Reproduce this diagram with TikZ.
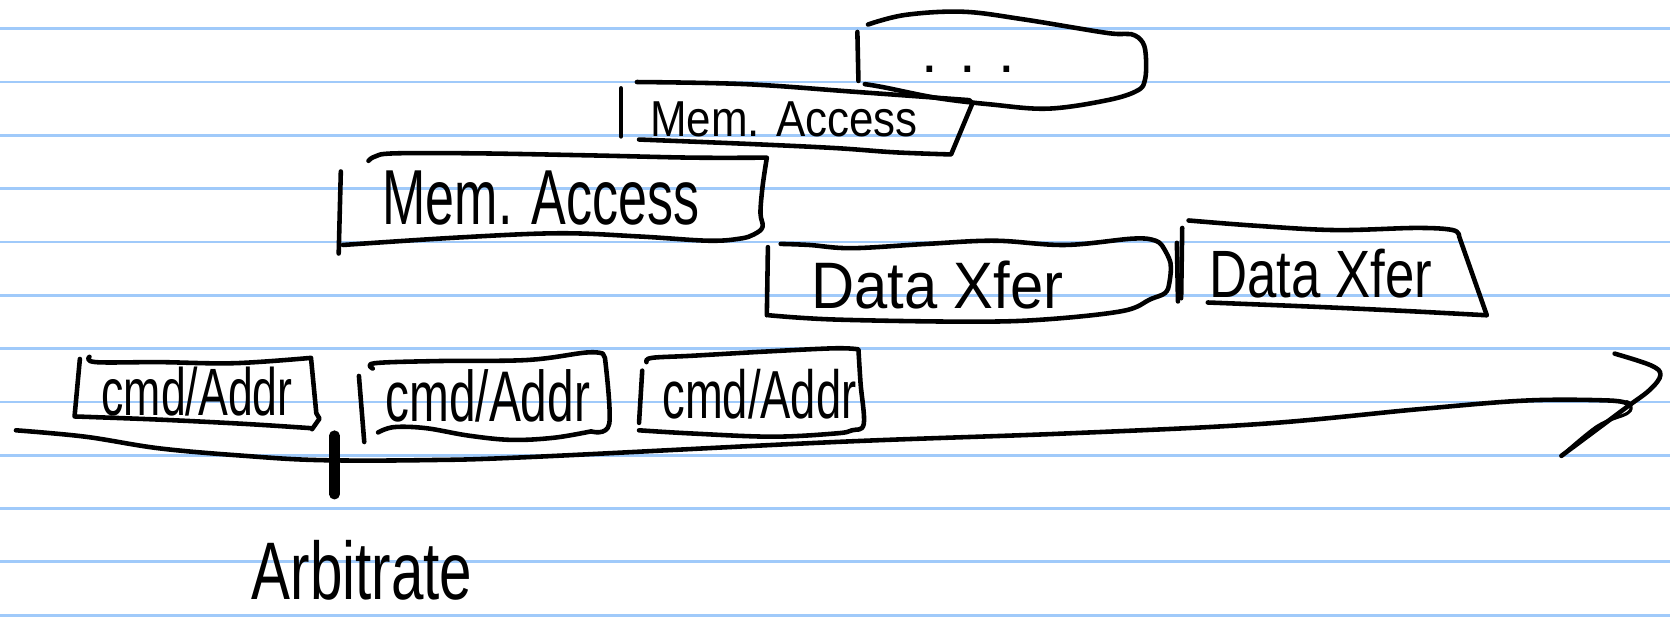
\documentclass[tikz,border=0pt]{standalone}
\usepackage{fontspec}
\usepackage{graphicx}
\setsansfont{Liberation Sans}
\definecolor{ruling}{RGB}{160,202,250}
\tikzset{
  ink/.style={draw=black, line width=1.3pt, line cap=round, line join=round},
  rule/.style={draw=ruling, line width=0.8pt},
  hw/.style={inner sep=0pt, font=\sffamily, anchor=base, text=black},
}
\newcommand{\hwtext}[3]{\fontsize{#1}{#1}\selectfont\scalebox{1}[#2]{#3}}
\begin{document}
\begin{tikzpicture}[x=0.01065cm, y=-0.01065cm]
\useasboundingbox (0,0) rectangle (1568,580);
\fill[white] (0,0) rectangle (1568,580);
% ruled paper
\foreach \k in {0,...,11} {
  \draw[rule] (0,{27+50.05*\k}) -- (1568,{27+50.05*\k});
}
% "..." box
\draw[ink] (805,30) -- (806,76);
\draw[ink] plot[smooth, tension=0.6] coordinates {(815,23) (850,14) (904,11) (960,18) (1040,31) (1062,32) (1073,40) (1076,55) (1075,75) (1068,85) (1040,94) (984,102) (930,98) (880,92) (830,82) (812,79)};
\node[hw] (dots) at (909,68) {\hwtext{17}{1}{. . .}};
% upper Mem. Access
\draw[ink] (583,83) -- (583,128);
\draw[ink] plot[smooth, tension=0.6] coordinates {(598,77) (700,79) (800,86) (910,94)} -- (913,97) -- (893,145) -- plot[smooth, tension=0.6] coordinates {(893,145) (840,143) (784,139) (700,135) (600,131)};
\node[hw] (mem1) at (736,128) {\hwtext{12.5}{1.15}{Mem. Access}};
% lower Mem. Access
\draw[ink] (320,161) -- (318,238);
\draw[ink] plot[smooth, tension=0.6] coordinates {(346,151) (352,147) (370,144) (450,144) (560,146) (650,148) (720,148)} -- plot[smooth, tension=0.6] coordinates {(720,148) (716,175) (714,200) (716,213) (708,220) (695,224) (665,226) (600,222) (525,219) (430,223) (322,230)};
\node[hw] (mem2) at (508,211) {\hwtext{14.8}{1.5}{Mem. Access}};
% Data Xfer 1
\draw[ink] (721,232) -- (720,296);
\draw[ink] plot[smooth, tension=0.6] coordinates {(733,229) (760,230) (800,233) (870,229) (934,226) (1000,230) (1064,224) (1085,226) (1092,232)} -- plot[smooth, tension=0.6] coordinates {(1092,232) (1099,247) (1098,265) (1094,275) (1080,281) (1054,292) (980,300) (909,302) (784,300) (722,296)};
\node[hw] (dx1) at (880,290) {\hwtext{17}{1.1}{Data Xfer}};
% Data Xfer 2
\draw[ink] (1105,228) -- (1106,283);
\draw[ink] (1110,214) -- (1109,280);
\draw[ink] plot[smooth, tension=0.6] coordinates {(1116,207) (1180,212) (1254,216) (1330,214) (1364,216) (1370,222)} -- (1396,296) -- plot[smooth, tension=0.6] coordinates {(1396,296) (1320,292) (1234,288) (1134,284)};
\node[hw] (dx2) at (1240,279) {\hwtext{15}{1.27}{Data Xfer}};
% cmd/Addr 1
\draw[ink] (75,337) -- (70,391) -- plot[smooth, tension=0.6] coordinates {(70,391) (150,394) (230,398) (292,402)};
\draw[ink] plot[smooth, tension=0.6] coordinates {(84,335) (90,340) (150,340) (220,341) (292,336)} -- (297,388) -- (300,393) -- (293,403);
\node[hw] (ca1) at (185,390) {\hwtext{12.7}{1.5}{cmd/Addr}};
% cmd/Addr 2
\draw[ink] (337,353) -- (342,415);
\draw[ink] plot[smooth, tension=0.6] coordinates {(350,346) (352,341) (410,339) (495,338) (550,331) (566,332)} -- plot[smooth, tension=0.6] coordinates {(568,336) (572,398) (555,405)} -- plot[smooth, tension=0.6] coordinates {(555,405) (520,411) (480,413) (440,409) (400,402) (370,401) (355,406)};
\node[hw] (ca2) at (458,396) {\hwtext{13.6}{1.5}{cmd/Addr}};
% cmd/Addr 3
\draw[ink] (603,348) -- (600,397);
\draw[ink] plot[smooth, tension=0.6] coordinates {(607,340) (612,336) (650,334) (720,330) (784,327) (806,328)} -- plot[smooth, tension=0.6] coordinates {(806,328) (808,360) (811,398) (800,404) (784,407) (725,410) (650,407) (600,404)};
\node[hw] (ca3) at (713,393) {\hwtext{12.9}{1.5}{cmd/Addr}};
% time axis
\draw[ink] plot[smooth, tension=0.6] coordinates {(15,404) (80,410) (150,421) (230,428) (300,432) (400,432) (500,429) (784,415) (1000,407) (1184,398) (1334,384) (1434,376) (1510,376) (1528,379)};
\draw[ink] plot[smooth, tension=0.6] coordinates {(1516,332) (1550,343) (1559,352) (1549,366) (1525,384) (1466,428)};
\draw[ink, line width=0.9pt] plot[smooth, tension=0.6] coordinates {(1466,428) (1500,400) (1528,388) (1531,380) (1527,377)};
% arbitrate tick and label
\coordinate (tickTop) at (314,409);
\coordinate (tickBot) at (314,464);
\draw[ink, line width=3pt] (tickTop) -- (tickBot);
\node[hw] (arb) at (340,563) {\hwtext{16.6}{1.4}{Arbitrate}};
\end{tikzpicture}
\end{document}
